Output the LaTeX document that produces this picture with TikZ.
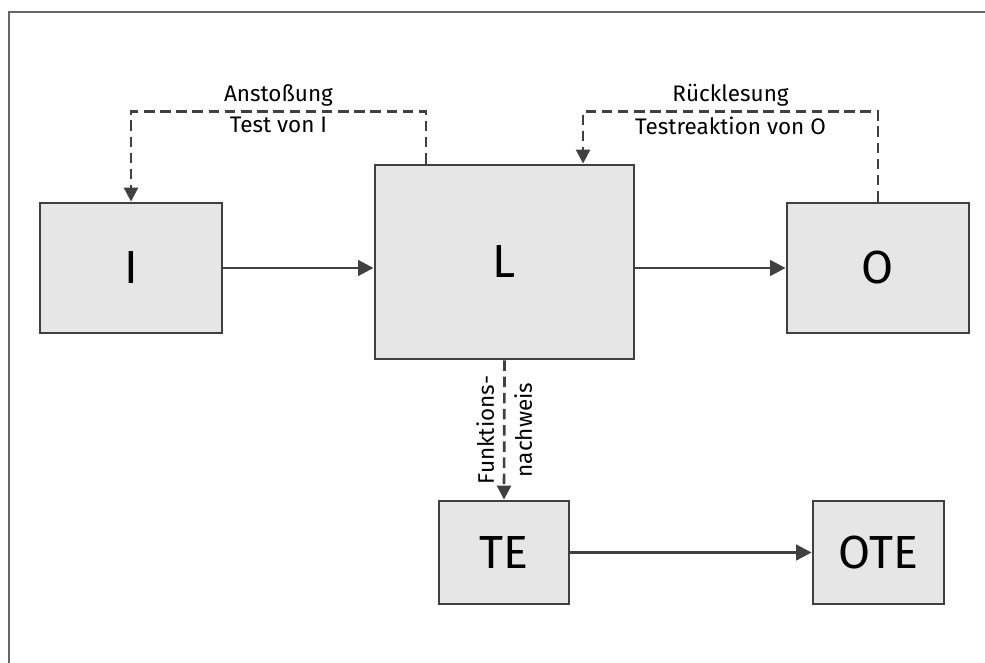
\documentclass[tikz,border=0pt]{standalone}
\usepackage{fontspec}
\setmainfont{Fira Sans}
\usetikzlibrary{arrows.meta,positioning,calc}
\definecolor{boxfill}{HTML}{E6E6E6}
\definecolor{linegray}{HTML}{404040}
\definecolor{framegray}{HTML}{666666}

\begin{document}
\begin{tikzpicture}[x=0.025cm, y=-0.025cm,
    block/.style={draw=linegray, line width=2pt, fill=boxfill, inner sep=0pt, font=\fontsize{33}{40}\selectfont},
    arr/.style={-{Triangle[length=11pt,width=11pt]}, line width=2.1pt, linegray},
    fb/.style={-{Triangle[length=10pt,width=10pt]}, line width=1.9pt, linegray, dash pattern=on 7.5pt off 4pt},
    lbl/.style={font=\fontsize{16}{19}\selectfont, text=black, inner sep=3pt}
]
\useasboundingbox (0,0) rectangle (985,663);
\draw[framegray, line width=1.5pt] (9,663) |- (985,12);

\node[block, minimum width=4.55cm, minimum height=3.25cm] (I) at (131,268) {I};
\node[block, minimum width=6.475cm, minimum height=4.85cm] (L) at (504.5,262) {L};
\node[block, minimum width=4.55cm, minimum height=3.25cm] (O) at (878,268) {O};
\node[block, minimum width=3.25cm, minimum height=2.575cm] (TE) at (504,552.5) {TE};
\node[block, minimum width=3.275cm, minimum height=2.575cm] (OTE) at (878.5,552.5) {OTE};

\coordinate (Ltop1) at ($(L.north west)!0.2!(L.north east)$);
\coordinate (Ltop2) at ($(L.north west)!0.8!(L.north east)$);

\draw[arr] (I.east) -- (I.east -| L.west);
\draw[arr] (L.east |- O.west) -- (O.west);
\draw[arr] (TE.east) -- (OTE.west);

% Rueckkopplungen
\draw[fb] (Ltop1) -- ++(0,-52) -| (I.north)
    node[lbl, pos=0.25, above] {Anstoßung}
    node[lbl, pos=0.25, below] {Test von I};
\draw[fb] (O.north) -- ++(0,-90) -| (Ltop2)
    node[lbl, pos=0.25, above] {Rücklesung}
    node[lbl, pos=0.25, below] {Testreaktion von O};
\draw[fb] (L.south) -- (TE.north)
    node[lbl, midway, rotate=90, align=center] {Funktions-\\[8pt]nachweis};
\end{tikzpicture}
\end{document}
